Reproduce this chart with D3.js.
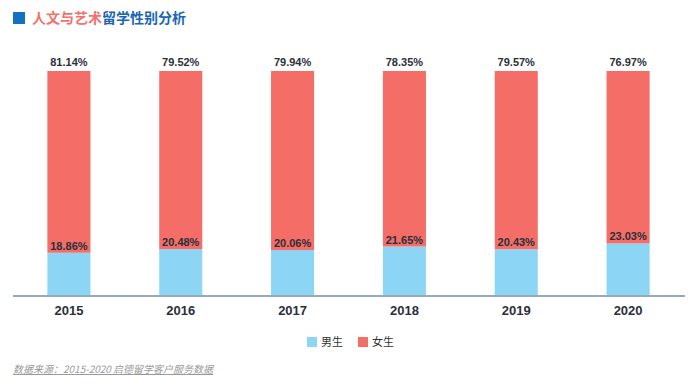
<!DOCTYPE html>
<html>
<head>
<meta charset="utf-8">
<script src="https://cdn.jsdelivr.net/npm/d3@7"></script>
<style>
  body { margin: 0; background: #fff; }
  svg { display: block; font-family: "Noto Sans CJK SC", "Noto Sans", sans-serif; }
</style>
</head>
<body>
<svg id="chart" width="700" height="385"></svg>
<script>
// data
const years = ['2015', '2016', '2017', '2018', '2019', '2020'];
const male = [18.86, 20.48, 20.06, 21.65, 20.43, 23.03];
const female = [81.14, 79.52, 79.94, 78.35, 79.57, 76.97];
const seriesNames = ['男生', '女生'];
const colors = ['#8dd5f4', '#f46d66'];

const svg = d3.select('#chart');

// title
svg.append('rect').attr('x', 13).attr('y', 12).attr('width', 12).attr('height', 12).attr('fill', '#1670c1');
const title = svg.append('text').attr('x', 32).attr('y', 23)
  .attr('font-size', 14).attr('font-weight', 'bold');
title.append('tspan').attr('fill', '#f2716a').text('人文与艺术');
title.append('tspan').attr('fill', '#1a66b3').text('留学性别分析');

const x = d3.scaleBand()
  .domain(years)
  .range([13, 684])
  .paddingInner(0.615)
  .paddingOuter(0.3075);

const y = d3.scaleLinear().domain([0, 100]).range([295, 71]);

const rows = years.map((yr, i) => ({ year: yr, male: male[i], female: female[i] }));
const stacked = d3.stack().keys(['male', 'female'])(rows);

const g = svg.append('g');
g.selectAll('g.layer')
  .data(stacked)
  .enter().append('g')
  .attr('fill', (d, i) => colors[i])
  .selectAll('rect')
  .data(d => d)
  .enter().append('rect')
  .attr('x', d => x(d.data.year))
  .attr('width', x.bandwidth())
  .attr('y', d => y(d[1]))
  .attr('height', d => y(d[0]) - y(d[1]));

const numFont = '"Liberation Sans", Arial, sans-serif';

// value labels
g.selectAll('text.fem')
  .data(rows)
  .enter().append('text')
  .attr('x', d => x(d.year) + x.bandwidth() / 2)
  .attr('y', d => y(100) - 5)
  .attr('text-anchor', 'middle')
  .attr('font-family', numFont)
  .attr('font-size', 11).attr('font-weight', 'bold')
  .attr('fill', '#2a2f3a')
  .text(d => d.female.toFixed(2) + '%');

g.selectAll('text.male')
  .data(rows)
  .enter().append('text')
  .attr('x', d => x(d.year) + x.bandwidth() / 2)
  .attr('y', d => y(d.male) - 3)
  .attr('text-anchor', 'middle')
  .attr('font-family', numFont)
  .attr('font-size', 11).attr('font-weight', 'bold')
  .attr('fill', '#2a2f3a')
  .text(d => d.male.toFixed(2) + '%');

// x axis
const axis = svg.append('g').attr('transform', 'translate(0,296)')
  .call(d3.axisBottom(x).tickSize(0).tickPadding(10));
axis.select('.domain').attr('stroke', '#93aac2').attr('stroke-width', 2).attr('d', 'M13,0H685');
axis.selectAll('text')
  .attr('font-size', 13).attr('font-weight', 'bold')
  .attr('fill', '#2a2f3a')
  .attr('font-family', numFont);

// legend
const legend = svg.append('g');
const lx = [307, 358];
seriesNames.forEach((name, i) => {
  legend.append('rect').attr('x', lx[i]).attr('y', 337).attr('width', 10).attr('height', 10).attr('fill', colors[i]);
  legend.append('text').attr('x', lx[i] + 14).attr('y', 346)
    .attr('font-size', 11).attr('fill', '#333').text(name);
});

// source note
svg.append('text').attr('x', 13).attr('y', 373)
  .attr('font-size', 10).attr('font-style', 'italic')
  .attr('fill', '#9a9a9a')
  .attr('text-decoration', 'underline')
  .text('数据来源：2015-2020 启德留学客户服务数据');
</script>
</body>
</html>
